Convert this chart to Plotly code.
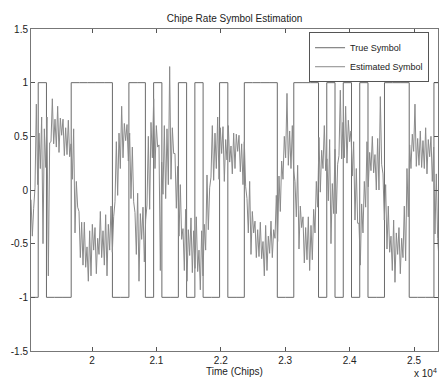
import plotly.graph_objects as go

# ---------------- data ----------------
title_text = "Chipe Rate Symbol Estimation"
x_label = "Time (Chips)"
x_tick_vals = [20000, 21000, 22000, 23000, 24000, 25000]
x_tick_text = ["2", "2.1", "2.2", "2.3", "2.4", "2.5"]
y_tick_vals = [-1.5, -1, -0.5, 0, 0.5, 1, 1.5]
y_tick_text = ["-1.5", "-1", "-0.5", "0", "0.5", "1", "1.5"]

# true symbols, one per symbol period (128 chips), first symbol starts at chip 19037
symbol_start = 19037
symbol_period = 128
true_symbols = [-1, 1, -1, -1, -1, 1, 1, 1, 1, 1, -1, -1, 1, 1, -1, 1, -1, -1, 1, -1,
                1, -1, -1, 1, -1, -1, 1, 1, 1, 1, -1, -1, 1, 1, 1, -1, 1, -1, 1, -1,
                1, -1, -1, 1, 1, 1, -1, -1, -1, 1]

# estimated symbol samples, starting at chip 19053, every 20.7 chips
est_start = 19053
est_step = 20.7
estimated = [
    -0.09, -0.43, -0.17, 0.02, 0.8, 0.05, 0.53, 0.2, 0.68, -0.5, 0.57, 0.21,
    0.68, -0.8, 0.44, 0.45, 0.85, 0.43, 0.66, 0.4, 0.78, 0.35, 0.67, 0.51,
    0.66, 0.32, 0.58, 0.33, 0.65, 0.31, 0.43, 0.1, 0.57, -0.4, 0.08, -0.16,
    -0.2, -0.63, -0.3, -0.7, -0.3, -0.72, -0.53, -0.85, -0.38, -0.8, -0.32, -0.56,
    -0.35, -0.78, -0.45, -0.6, -0.2, -0.63, -0.38, -0.7, -0.23, -0.8, -0.32, -0.56,
    -0.15, -0.58, -0.25, -0.11, 0.45, -0.05, 0.53, 0.2, 0.78, 0.3, 0.62, 0.46,
    0.61, 0.27, 0.53, -0.08, 0.4, -0.11, -0.21, -0.6, -0.03, -0.85, -0.22, -0.46,
    -0.16, -0.67, -0.28, -0.14, 0.5, -0.18, 0.63, 0.3, 0.85, 0.2, 0.6, 0.4,
    0.42, -0.75, 0.26, -0.04, 0.6, -0.08, 0.57, 0.05, 1.15, 0.1, 0.58, 0.34,
    0.34, -0.17, 0.22, -0.43, 0.05, -0.46, -0.36, -0.75, -0.18, -0.85, -0.37, -0.61,
    -0.26, -0.77, -0.38, -0.73, -0.25, -0.76, -0.56, -0.93, -0.38, -0.8, -0.32, -0.56,
    0.14, -0.37, 0.02, 0.12, 0.6, 0.09, 0.53, 0.2, 0.68, 0.1, 0.58, 0.34,
    0.59, 0.08, 0.47, 0.28, 0.6, 0.26, 0.41, 0.15, 0.53, 0.2, 0.52, 0.36,
    0.51, 0.17, 0.43, 0.05, 0.45, 0.03, -0.08, -0.4, 0.08, -0.6, -0.2, -0.4,
    -0.29, -0.63, -0.37, -0.62, -0.3, -0.64, -0.48, -0.8, -0.33, -0.75, -0.43, -0.59,
    -0.29, -0.63, -0.37, -0.45, -0.05, -0.48, 0.13, -0.2, 0.27, 0.1, 0.5, 0.3,
    0.9, 0.23, 0.55, 0.2, 0.6, 0.18, 0.08, -0.25, 0.23, -0.55, -0.15, -0.35,
    -0.25, -0.68, -0.35, -0.65, -0.25, -0.75, -0.33, -0.65, -0.18, -0.4, 0.08, -0.16,
    0.49, -0.02, 0.37, 0.2, 0.6, 0.18, 0.29, -0.1, 0.47, -0.5, 0.06, -0.22,
    0.38, -0.22, 0.24, 0.32, 0.93, 0.29, 0.63, 0.3, 0.78, 0.25, 0.65, 0.45,
    0.55, 0.13, 0.45, -0.28, 0.2, -0.31, -0.31, -0.7, -0.13, -0.4, 0.08, -0.16,
    0.45, 0.03, 0.35, 0.18, 0.5, 0.16, 0.33, 0.0, 0.48, 0.0, 0.87, 0.24,
    0.15, -0.28, 0.05, -0.55, -0.15, -0.58, -0.43, -0.75, -0.28, -0.86, -0.4, -0.6,
    -0.35, -0.78, -0.45, -0.63, -0.15, -0.66, 0.2, -0.25, 0.42, 0.2, 0.52, 0.36,
    0.8, 0.22, 0.48, 0.23, 0.55, 0.21, 0.46, 0.2, 0.58, 0.15, 0.47, 0.31,
    0.5, 0.08, 0.4, -0.41, 0.15, -0.45, -0.64, -0.85, -0.52,
]

x_range = [19053, 25372]
y_range = [-1.5, 1.5]

# ---------------- build traces ----------------
true_x = [symbol_start + k * symbol_period for k in range(len(true_symbols) + 1)]
true_y = true_symbols + [true_symbols[-1]]
est_x = [est_start + i * est_step for i in range(len(estimated))]

fig = go.Figure()
fig.add_trace(go.Scatter(
    x=true_x, y=true_y, mode="lines", name="True Symbol",
    line=dict(color="#6a6a6a", width=1, shape="hv"),
))
fig.add_trace(go.Scatter(
    x=est_x, y=estimated, mode="lines", name="Estimated Symbol",
    line=dict(color="#8a8a8a", width=1),
))

font_family = "Liberation Sans, Arial, sans-serif"

fig.update_layout(
    width=439, height=381,
    margin=dict(l=31, r=1, t=29, b=30),
    paper_bgcolor="white", plot_bgcolor="white",
    font=dict(family=font_family, size=10, color="#222"),
    title=dict(text=title_text, x=0.5, xref="paper", y=0.952, yref="container",
               xanchor="center", yanchor="middle",
               font=dict(family=font_family, size=10, color="#222")),
    showlegend=True,
    legend=dict(
        x=0.978, y=0.99, xanchor="right", yanchor="top",
        bgcolor="white", bordercolor="#555", borderwidth=1,
        font=dict(family=font_family, size=9, color="#222"),
        tracegroupgap=0, itemwidth=30,
    ),
    xaxis=dict(
        range=x_range, tickvals=x_tick_vals, ticktext=x_tick_text,
        ticks="inside", ticklen=4, tickcolor="#555",
        showline=True, linecolor="#777", linewidth=1, mirror="ticks",
        showgrid=False, zeroline=False,
        title=dict(text=x_label, standoff=1, font=dict(size=10)),
        tickfont=dict(size=10),
    ),
    yaxis=dict(
        range=y_range, tickvals=y_tick_vals, ticktext=y_tick_text,
        ticks="inside", ticklen=4, tickcolor="#555",
        showline=True, linecolor="#777", linewidth=1, mirror="ticks",
        showgrid=False, zeroline=False,
        tickfont=dict(size=10),
    ),
    annotations=[dict(
        text="x 10<sup>4</sup>", xref="paper", yref="paper",
        x=1.003, y=-0.093, xanchor="right", yanchor="bottom",
        showarrow=False, font=dict(family=font_family, size=10, color="#222"),
    )],
)

fig.write_html(
    "out.html",
    config={"displayModeBar": False},
    post_script="document.body.style.margin='0';document.body.style.overflow='hidden';",
)
